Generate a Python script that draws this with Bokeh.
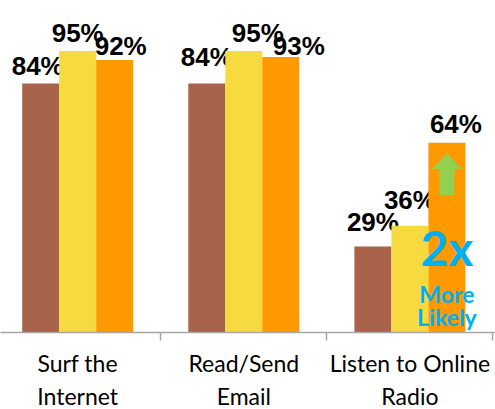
from bokeh.plotting import figure
from bokeh.models import ColumnDataSource, Range1d, FixedTicker, Label
from bokeh.embed import file_html
from bokeh.resources import INLINE
from bokeh.core.properties import value

# ---- data ----
categories = ["Surf the\nInternet", "Read/Send\nEmail", "Listen to Online\nRadio"]
series_a = [84, 84, 29]   # brown
series_b = [95, 95, 36]   # yellow
series_c = [92, 93, 64]   # orange
series_list = [series_a, series_b, series_c]

# ---- styles / layout ----
colors = ["#A9634A", "#F7DA3F", "#FF9900"]
bar_w = 0.2228
offsets = [-bar_w, 0.0, bar_w]
# per-label pixel nudges, indexed [series][group]
label_dx = [[-3, 0, 0], [0, 14, 0], [6, 18, 9]]
label_gap = [[18, 27, 25], [18, 18, 26], [14, 11, 19]]
grey = "#A6A6A6"

p = figure(frame_width=495, frame_height=332, output_backend="svg", toolbar_location=None,
           x_range=Range1d(0.5352, 3.5153), y_range=Range1d(0, 112.05),
           y_axis_location=None, min_border=0, min_border_bottom=77)
p.outline_line_color = None
p.xgrid.visible = False
p.ygrid.visible = False
p.background_fill_color = "white"
p.border_fill_color = "white"

centers = [i + 1 for i in range(len(categories))]
for s, vals in enumerate(series_list):
    xs = [c + offsets[s] for c in centers]
    src = ColumnDataSource(dict(
        x=xs, top=vals, label=[f"{v}%" for v in vals],
        dx=label_dx[s], dy=[-g for g in label_gap[s]]))
    p.vbar(x="x", top="top", width=bar_w, source=src, fill_color=colors[s], line_color=None)
    p.text(x="x", y="top", text="label", source=src, x_offset="dx", y_offset="dy",
           text_align="center", text_baseline="alphabetic",
           text_font=value("Liberation Sans"), text_font_style="bold",
           text_font_size="26px", text_color="black")

# green arrow inside the orange bar of the last group
ox = centers[2] + offsets[2]
top = series_c[2]
hw, sw = 0.090, 0.045
tip, base, bottom = top - 3.5, top - 8.9, top - 17.7
p.patch(x=[ox, ox + hw, ox + sw, ox + sw, ox - sw, ox - sw, ox - hw],
        y=[tip, base, base, bottom, bottom, base, base],
        fill_color="#92D050", line_color=None)

blue = "#00B0F0"
p.add_layout(Label(x=ox, y=top - 35.3, text="2x", text_align="center", text_baseline="alphabetic",
                   text_font="Lato", text_font_style="bold", text_font_size="48px", text_color=blue))
p.add_layout(Label(x=ox, y=top - 50.9, text="More", text_align="center", text_baseline="alphabetic",
                   text_font="Lato", text_font_style="bold", text_font_size="23px", text_color=blue))
p.add_layout(Label(x=ox, y=top - 58.8, text="Likely", text_align="center", text_baseline="alphabetic",
                   text_font="Lato", text_font_style="bold", text_font_size="23px", text_color=blue))

ax = p.xaxis[0]
ax.ticker = FixedTicker(ticks=centers, minor_ticks=[c + 0.5 for c in centers])
ax.major_label_overrides = {c: lab for c, lab in zip(centers, categories)}
ax.major_tick_line_color = None
ax.minor_tick_in = 0
ax.minor_tick_out = 8
ax.minor_tick_line_color = grey
ax.minor_tick_line_width = 1.5
ax.axis_line_color = grey
ax.axis_line_width = 1.5
ax.major_label_standoff = 8
ax.major_label_text_font = "Lato"
ax.major_label_text_font_size = "23px"
ax.major_label_text_color = "black"
ax.major_label_text_line_height = 1.2

open("out.html", "w").write(file_html(p, INLINE))
